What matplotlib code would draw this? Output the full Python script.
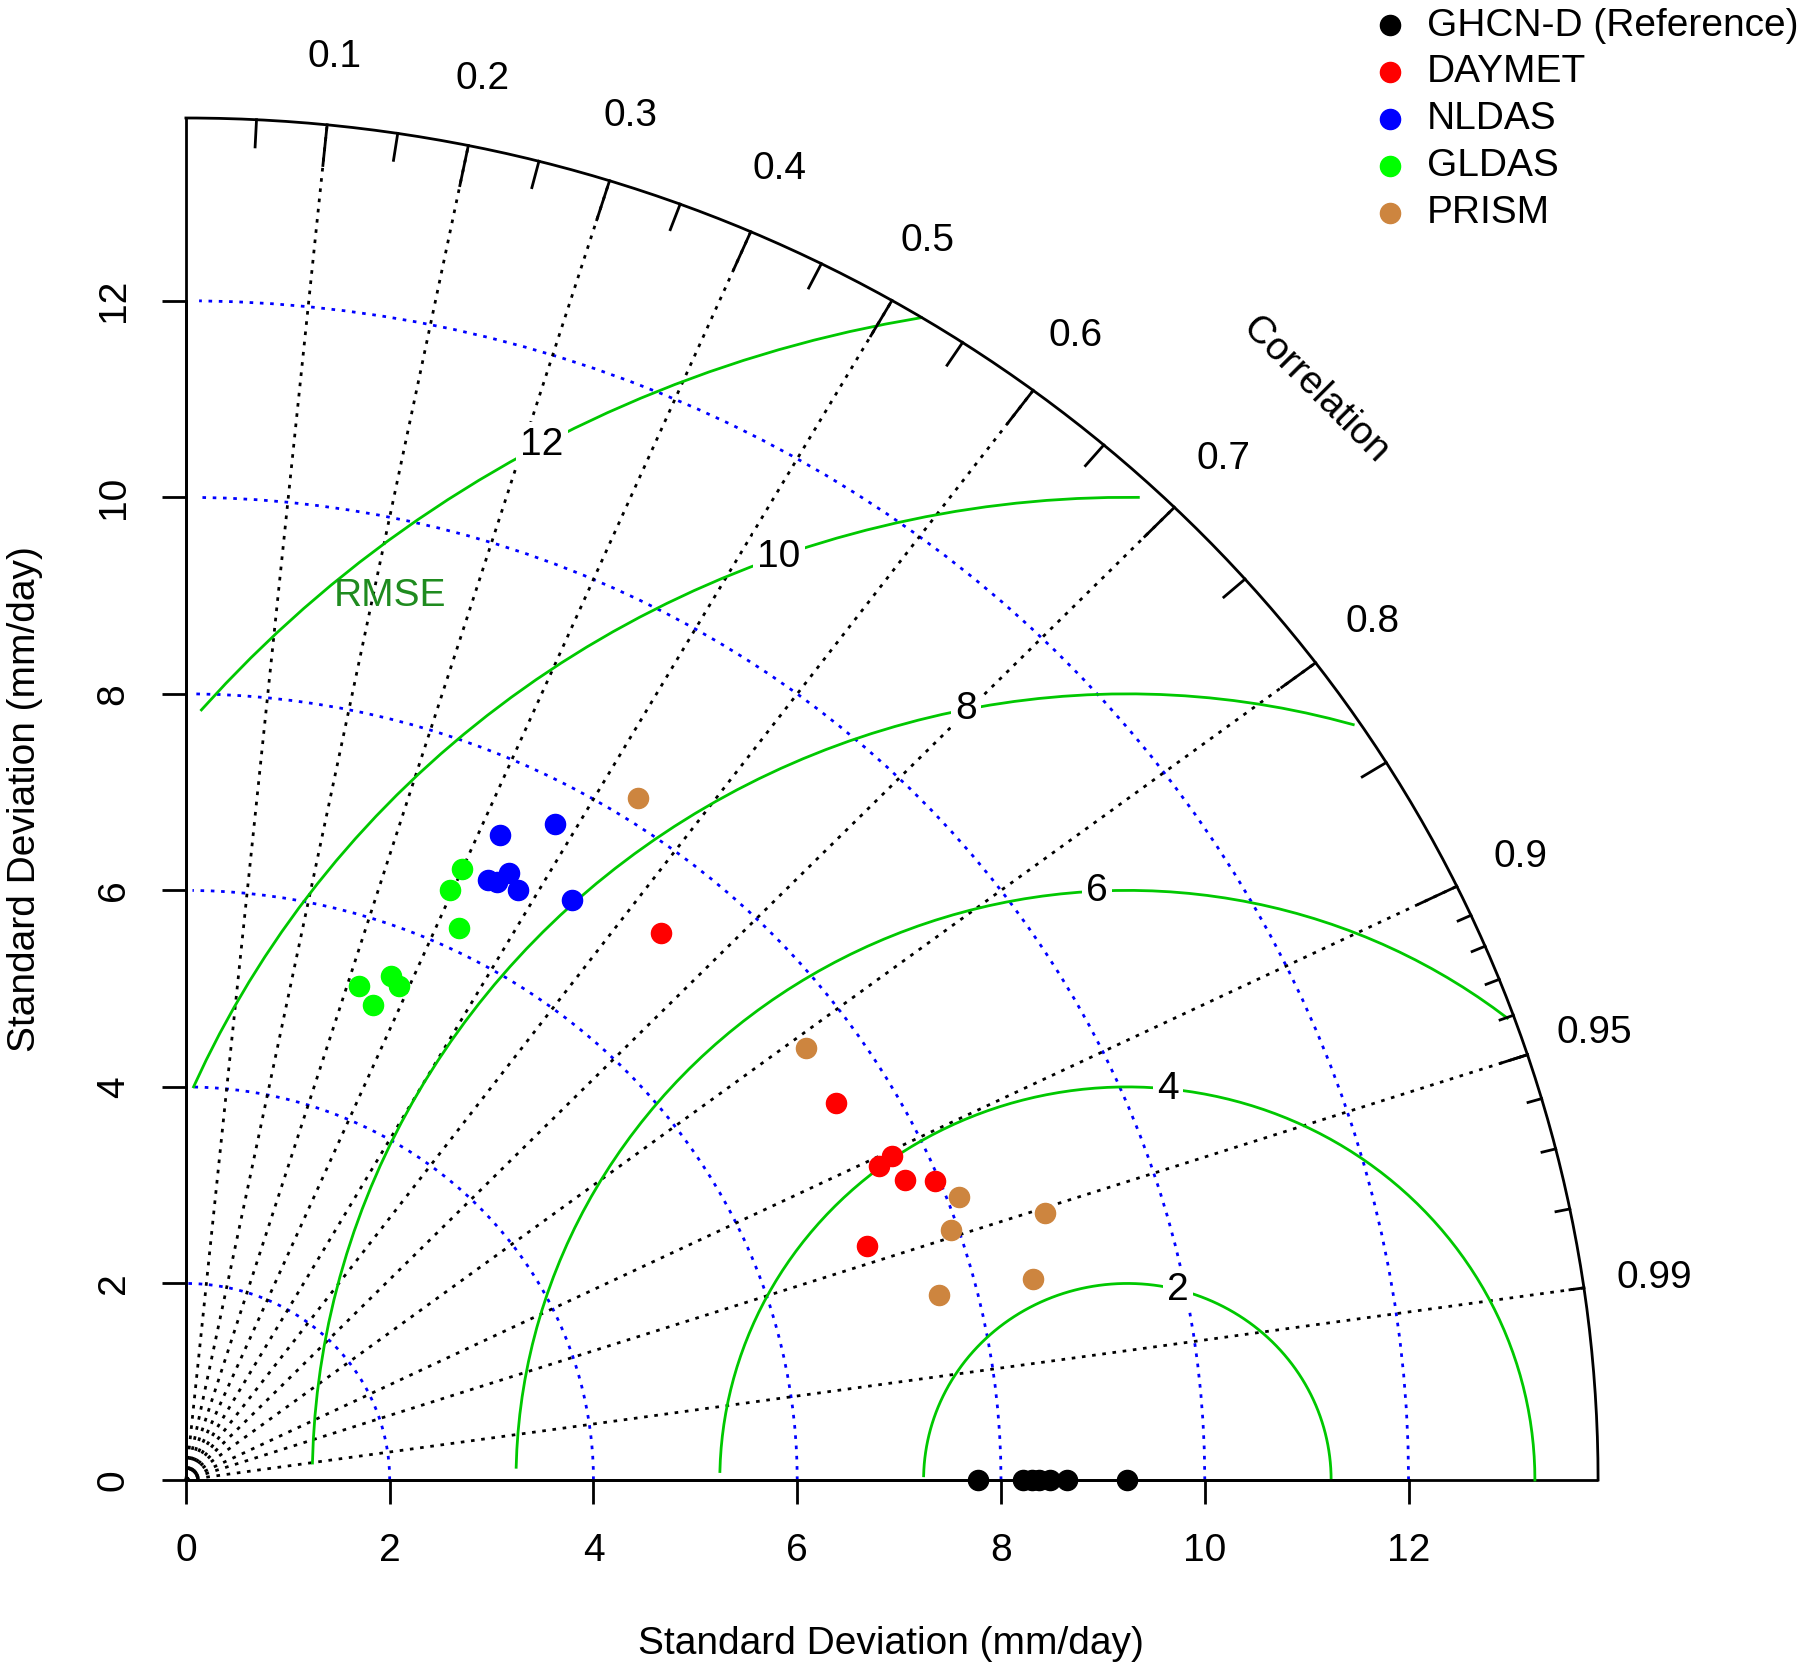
import numpy as np
import matplotlib.pyplot as plt

plt.rcParams['font.family'] = ['Liberation Sans', 'DejaVu Sans']

# standard deviation (mm/day) and correlation against GHCN-D, one value per station
ghcn_sd = [7.77, 8.22, 8.30, 8.37, 8.48, 8.65, 9.24]
ghcn_cor = [1.0, 1.0, 1.0, 1.0, 1.0, 1.0, 1.0]

daymet_sd = [7.26, 7.44, 7.67, 7.52, 7.69, 7.96, 7.10]
daymet_cor = [0.642, 0.857, 0.903, 0.905, 0.918, 0.924, 0.942]

nldas_sd = [7.60, 7.25, 6.79, 6.81, 6.94, 6.83, 7.01]
nldas_cor = [0.477, 0.425, 0.437, 0.448, 0.457, 0.477, 0.540]

gldas_sd = [6.78, 6.54, 6.22, 5.51, 5.31, 5.44, 5.17]
gldas_cor = [0.400, 0.396, 0.431, 0.365, 0.320, 0.384, 0.356]

prism_sd = [8.24, 7.51, 8.11, 8.86, 7.93, 8.56, 7.63]
prism_cor = [0.539, 0.811, 0.935, 0.952, 0.947, 0.971, 0.969]

ref_sd = 9.24      # reference sd used as centre of the RMSE contours
max_sd = 13.86
sd_ticks = [0, 2, 4, 6, 8, 10, 12]
rmse_levels = [2, 4, 6, 8, 10, 12]
cor_lines = [0.1, 0.2, 0.3, 0.4, 0.5, 0.6, 0.7, 0.8, 0.9, 0.95, 0.99]
cor_labels = ['0.1', '0.2', '0.3', '0.4', '0.5', '0.6', '0.7', '0.8', '0.9', '0.95', '0.99']

series = [
    ('GHCN-D (Reference)', ghcn_sd, ghcn_cor, '#000000'),
    ('DAYMET', daymet_sd, daymet_cor, '#FF0000'),
    ('NLDAS', nldas_sd, nldas_cor, '#0000FF'),
    ('GLDAS', gldas_sd, gldas_cor, '#00FF00'),
    ('PRISM', prism_sd, prism_cor, '#CD853F'),
]

FS = 28
LW = 2.0
DOT = (0, (1.3, 2.4))
GAMMA_COL = '#00C800'
MS = 14.5

fig = plt.figure(figsize=(18, 16.67), dpi=100)
pad = 0.04 * max_sd
ax = fig.add_axes([0.0719, 0.0795, 0.8473, 0.8824])
ax.set_xlim(-pad, max_sd + pad)
ax.set_ylim(-pad, max_sd + pad)

# axes through the origin
for side in ['top', 'right']:
    ax.spines[side].set_visible(False)
for side in ['bottom', 'left']:
    ax.spines[side].set_position(('data', 0))
    ax.spines[side].set_bounds(0, 12)
    ax.spines[side].set_linewidth(LW)
ax.plot([0, max_sd], [0, 0], color='black', lw=LW, solid_capstyle='butt')
ax.plot([0, 0], [0, max_sd], color='black', lw=LW, solid_capstyle='butt')
ax.set_xticks(sd_ticks)
ax.set_yticks(sd_ticks)
ax.tick_params(direction='out', length=17, width=LW, labelsize=FS, pad=21)
ax.tick_params(axis='y', labelrotation=90, pad=22)
for lab in ax.get_yticklabels():
    lab.set_va('center')

# sd arcs
for s in sd_ticks:
    th = np.arange(0, np.pi / 2, 0.03)
    ax.plot(np.cos(th) * s, np.sin(th) * s, color='blue', lw=LW, linestyle=DOT)

# correlation rays
for c in cor_lines:
    ax.plot([0, max_sd * c], [0, max_sd * np.sqrt(1 - c ** 2)], color='black',
            lw=LW, linestyle=DOT)

# RMSE contours
th = np.arange(0, np.pi, 0.03)
label_idx = (np.linspace(45, 70, len(rmse_levels)) - 1).astype(int)
for g, li in zip(rmse_levels, label_idx):
    xc = np.cos(th) * g + ref_sd
    yc = np.sin(th) * g
    neg = np.where(xc < 0)[0]
    end = neg.min() if len(neg) else len(th)
    outside = np.where(xc ** 2 + yc ** 2 > max_sd ** 2)[0]
    start = outside.max() + 1 if len(outside) else 0
    ax.plot(xc[start:end], yc[start:end], color=GAMMA_COL, lw=LW)
    if xc[li] > 0:
        ax.text(xc[li], yc[li], str(g), fontsize=FS, ha='center', va='center',
                zorder=4, bbox=dict(facecolor='white', edgecolor='none', pad=3))
ax.text(2.0, 9.0, 'RMSE', fontsize=FS, color='#1F8B1F', ha='center', va='center')

# outer arc and ticks
th = np.linspace(0, np.pi / 2, 200)
ax.plot(np.cos(th) * max_sd, np.sin(th) * max_sd, color='black', lw=LW, clip_on=False)
tick_sets = [(np.arange(0.1, 0.91, 0.1), 0.97),
             (np.arange(0.05, 0.96, 0.1), 0.98),
             (np.arange(0.91, 0.995, 0.01), 0.99)]
for vals, f in tick_sets:
    a = np.arccos(vals)
    for ang in a:
        ax.plot([np.cos(ang) * max_sd, np.cos(ang) * f * max_sd],
                [np.sin(ang) * max_sd, np.sin(ang) * f * max_sd],
                color='black', lw=LW, clip_on=False)
for c, lab in zip(cor_lines, cor_labels):
    ang = np.arccos(c)
    ax.text(np.cos(ang) * 1.05 * max_sd, np.sin(ang) * 1.05 * max_sd, lab,
            fontsize=FS, ha='center', va='center', clip_on=False)
ax.text(0.8 * max_sd, 0.8 * max_sd, 'Correlation', fontsize=FS, rotation=-45,
        ha='center', va='center', rotation_mode='anchor')

# data points
for name, sd, cor, col in series:
    sd = np.array(sd)
    cor = np.array(cor)
    x = sd * cor
    y = sd * np.sqrt(1 - cor ** 2)
    ax.plot(x, y, 'o', color=col, markersize=MS, zorder=5, clip_on=False)

# legend
for i, (name, sd, cor, col) in enumerate(series):
    yy = 1 - (25.5 + 46.8 * i) / 1667
    fig.lines.append(plt.Line2D([1390 / 1800], [yy], marker='o', color=col,
                                markersize=MS, transform=fig.transFigure))
    fig.text(1427 / 1800, yy, name, fontsize=FS, ha='left', va='center')

fig.text(0.495, 1 - 1644 / 1667, 'Standard Deviation (mm/day)', fontsize=FS,
         ha='center', va='center')
fig.text(25 / 1800, 0.5207, 'Standard Deviation (mm/day)', fontsize=FS,
         ha='center', va='center', rotation=90)

fig.savefig('out.png', dpi=100)
